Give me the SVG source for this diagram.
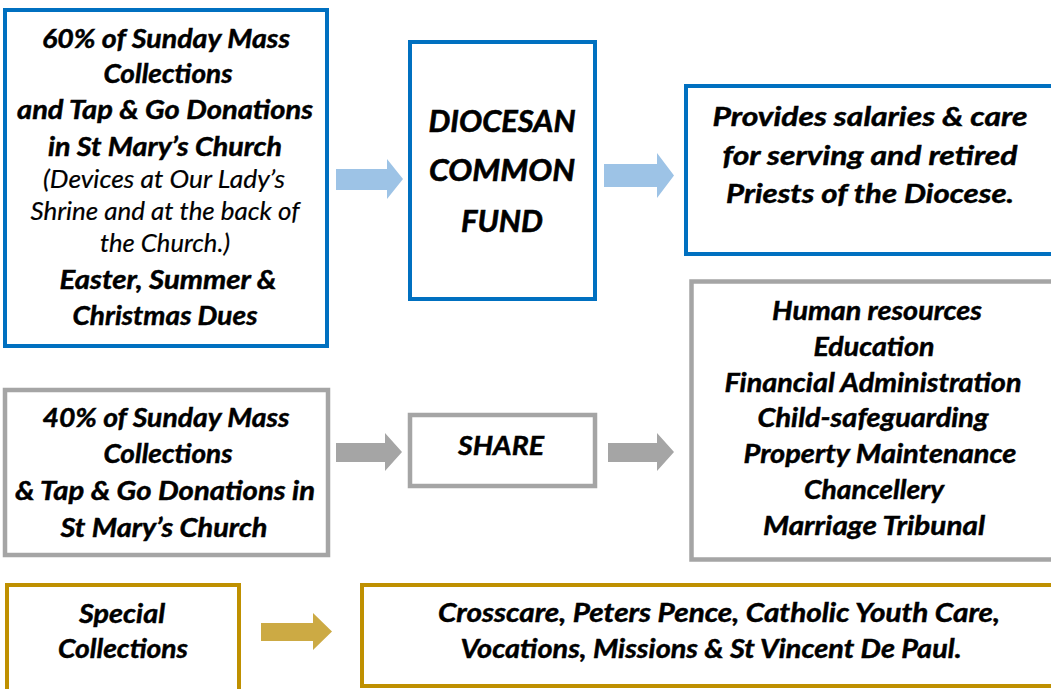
<svg xmlns="http://www.w3.org/2000/svg" width="1051" height="689" viewBox="0 0 1051 689">
<style>
.t{font-family:Lato,"Liberation Sans",sans-serif;font-weight:bold;font-style:italic;font-size:26px;fill:#000;stroke:#000;stroke-width:0.45;text-anchor:middle}
.r{font-weight:normal;font-size:25px;stroke-width:0.2}
.big{font-size:30px;stroke-width:0.6}
.blue{fill:#fff;stroke:#0070C0;stroke-width:4}
.gray{fill:#fff;stroke:#A5A5A5;stroke-width:4.5}
.gold{fill:#fff;stroke:#BF9000;stroke-width:4}
.ab{fill:#9DC3E6}
.ag{fill:#A5A5A5}
.ao{fill:#CCAA44}
</style>
<rect width="1051" height="689" fill="#fff"/>
<g id="connectors">
<polygon class="ab" points="336,169 387,169 387,159 403,179 387,199 387,190 336,190"/>
<polygon class="ab" points="604,164 657,164 657,153 674,175.5 657,198 657,187 604,187"/>
<polygon class="ag" points="336,443 385,443 385,433 402,452 385,471 385,462 336,462"/>
<polygon class="ag" points="608,443 657,443 657,433 674,452 657,471 657,462 608,462"/>
<polygon class="ao" points="261,623 313,623 313,613 332,631.5 313,650 313,641 261,641"/>
</g>
<g id="node-60">
<rect class="blue" x="5" y="10" width="322" height="336"/>
<text class="t" x="166" y="48" textLength="248" lengthAdjust="spacingAndGlyphs">60% of Sunday Mass</text>
<text class="t" x="168" y="83" textLength="129" lengthAdjust="spacingAndGlyphs">Collections</text>
<text class="t" x="165" y="119" textLength="296" lengthAdjust="spacingAndGlyphs">and Tap &amp; Go Donations</text>
<text class="t" x="165" y="156" textLength="234" lengthAdjust="spacingAndGlyphs">in St Mary’s Church</text>
<text class="t r" x="164" y="188" textLength="242" lengthAdjust="spacingAndGlyphs">(Devices at Our Lady’s</text>
<text class="t r" x="165" y="220" textLength="269" lengthAdjust="spacingAndGlyphs">Shrine and at the back of</text>
<text class="t r" x="165" y="252" textLength="130" lengthAdjust="spacingAndGlyphs">the Church.)</text>
<text class="t" x="168" y="289" textLength="217" lengthAdjust="spacingAndGlyphs">Easter, Summer &amp;</text>
<text class="t" x="165" y="325" textLength="185" lengthAdjust="spacingAndGlyphs">Christmas Dues</text>
</g>
<g id="node-dcf">
<rect class="blue" x="410" y="42" width="185" height="257"/>
<text class="t big" x="502" y="132" textLength="147" lengthAdjust="spacingAndGlyphs">DIOCESAN</text>
<text class="t big" x="502" y="181" textLength="146" lengthAdjust="spacingAndGlyphs">COMMON</text>
<text class="t big" x="502" y="232" textLength="82" lengthAdjust="spacingAndGlyphs">FUND</text>
</g>
<g id="node-priests">
<rect class="blue" x="686" y="86" width="400" height="168"/>
<text class="t" x="870" y="126" textLength="315" lengthAdjust="spacingAndGlyphs">Provides salaries &amp; care</text>
<text class="t" x="870" y="165" textLength="295" lengthAdjust="spacingAndGlyphs">for serving and retired</text>
<text class="t" x="870" y="203" textLength="288" lengthAdjust="spacingAndGlyphs">Priests of the Diocese.</text>
</g>
<g id="node-40">
<rect class="gray" x="5" y="390" width="323" height="165"/>
<text class="t" x="166" y="427" textLength="247" lengthAdjust="spacingAndGlyphs">40% of Sunday Mass</text>
<text class="t" x="168" y="463" textLength="129" lengthAdjust="spacingAndGlyphs">Collections</text>
<text class="t" x="165" y="500" textLength="300" lengthAdjust="spacingAndGlyphs">&amp; Tap &amp; Go Donations in</text>
<text class="t" x="164" y="537" textLength="207" lengthAdjust="spacingAndGlyphs">St Mary’s Church</text>
</g>
<g id="node-share">
<rect class="gray" x="410" y="415" width="185" height="71"/>
<text class="t" x="501" y="455" textLength="86" lengthAdjust="spacingAndGlyphs">SHARE</text>
</g>
<g id="node-services">
<rect class="gray" x="691.5" y="281.5" width="400" height="278"/>
<text class="t" x="877" y="320" textLength="210" lengthAdjust="spacingAndGlyphs">Human resources</text>
<text class="t" x="874" y="356" textLength="121" lengthAdjust="spacingAndGlyphs">Education</text>
<text class="t" x="873" y="392" textLength="297" lengthAdjust="spacingAndGlyphs">Financial Administration</text>
<text class="t" x="873" y="427" textLength="231" lengthAdjust="spacingAndGlyphs">Child-safeguarding</text>
<text class="t" x="880" y="463" textLength="273" lengthAdjust="spacingAndGlyphs">Property Maintenance</text>
<text class="t" x="874" y="499" textLength="140" lengthAdjust="spacingAndGlyphs">Chancellery</text>
<text class="t" x="874" y="535" textLength="222" lengthAdjust="spacingAndGlyphs">Marriage Tribunal</text>
</g>
<g id="node-special">
<rect class="gold" x="7" y="585" width="232" height="120"/>
<text class="t" x="122" y="623" textLength="86" lengthAdjust="spacingAndGlyphs">Special</text>
<text class="t" x="123" y="658" textLength="130" lengthAdjust="spacingAndGlyphs">Collections</text>
</g>
<g id="node-charities">
<rect class="gold" x="362" y="585" width="700" height="101"/>
<text class="t" x="719" y="622" textLength="562" lengthAdjust="spacingAndGlyphs">Crosscare, Peters Pence, Catholic Youth Care,</text>
<text class="t" x="711" y="658" textLength="501" lengthAdjust="spacingAndGlyphs">Vocations, Missions &amp; St Vincent De Paul.</text>
</g>
</svg>
